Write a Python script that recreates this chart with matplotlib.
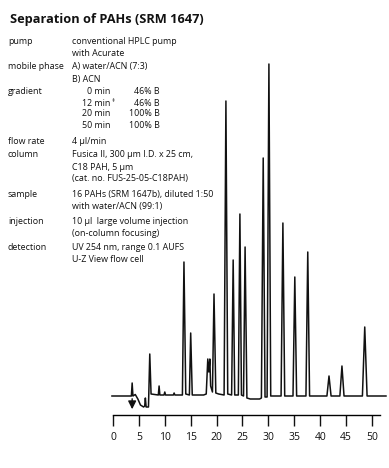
import numpy as np
import matplotlib
matplotlib.use('Agg')
import matplotlib.pyplot as plt

plt.rcParams['font.family'] = ['Open Sans', 'DejaVu Sans']

##################################################################
# Data (time in min, signal in arbitrary units)
##################################################################
trace_t = [-0.2, 3.55, 3.7, 3.85, 4.3, 4.8, 5.3, 5.9, 6.12, 6.25, 6.4, 6.85, 7.1, 7.35,
           8.75, 8.9, 9.05, 9.85, 10.0, 10.15, 11.65, 11.8, 11.95,
           13.4, 13.7, 14.05, 14.75, 15.0, 15.3, 17.5, 18.0, 18.3, 18.5, 18.7, 18.85,
           19.2, 19.5, 19.85, 20.4, 21.45, 21.8, 22.15, 22.9, 23.2, 23.5,
           24.2, 24.5, 24.8, 25.2, 25.5, 25.85, 26.5, 28.3, 28.65, 29.0, 29.35,
           29.75, 30.1, 30.45, 32.45, 32.8, 33.15, 34.75, 35.1, 35.45, 37.25, 37.6, 37.95,
           41.3, 41.7, 42.1, 43.8, 44.2, 44.6, 48.15, 48.6, 49.05, 52.7]
trace_y = [0, 0, 13, 0, 1.5, -3, -9, -11, -10, -2, -11, -11, 42, 2,
           1, 10, 1, 1, 4, 1, 1, 3, 1,
           1, 134, 2, 1, 63, 1, 1, 2, 37, 24, 37, 10,
           4, 102, 3, 2, 1, 295, 2, 1, 136, 1,
           1, 182, 1, 0, 149, -2, -3, -3, -2, 238, -1,
           -1, 332, 0, 0, 173, 0, 0, 119, 0, 0, 144, 0,
           0, 20, 0, 0, 30, 0, 0, 69, 0, 0]

xticks = [0, 5, 10, 15, 20, 25, 30, 35, 40, 45, 50]
injection_time = 3.7

title = 'Separation of PAHs (SRM 1647)'
conditions = [
    ('pump', ['conventional HPLC pump', 'with Acurate']),
    ('mobile phase', ['A) water/ACN (7:3)', 'B) ACN']),
    ('gradient', []),
    ('flow rate', ['4 \u00b5l/min']),
    ('column', ['Fusica II, 300 \u00b5m I.D. x 25 cm,', 'C18 PAH, 5 \u00b5m',
                '(cat. no. FUS-25-05-C18PAH)']),
    ('sample', ['16 PAHs (SRM 1647b), diluted 1:50', 'with water/ACN (99:1)']),
    ('injection', ['10 \u00b5l  large volume injection', '(on-column focusing)']),
    ('detection', ['UV 254 nm, range 0.1 AUFS', 'U-Z View flow cell']),
]
row_y = [42, 67, 92, 141, 155, 194, 221, 247]   # pixel rows of the labels
gradient_min = ['0 min', '12 min', '20 min', '50 min']
gradient_b = ['46% B', '46% B', '100% B', '100% B']

##################################################################
# Plot figure
##################################################################
W, H = 389, 468
fig = plt.figure(figsize=(W / 100, H / 100), dpi=100)

def px(x, y):
    return x / W, 1 - y / H

fig.text(*px(10, 20), title, fontsize=9.2, fontweight='bold', va='center', color='#111')

fs = 6.4
for (label, lines), y in zip(conditions, row_y):
    fig.text(*px(8, y), label, fontsize=fs, va='center', color='#111')
    for i, line in enumerate(lines):
        fig.text(*px(72, y + 12 * i), line, fontsize=fs, va='center', color='#111')

for i, (m, b) in enumerate(zip(gradient_min, gradient_b)):
    y = 92 + 11 * i
    fig.text(*px(110, y), m, fontsize=fs, va='center', ha='right', color='#111')
    fig.text(*px(160, y), b, fontsize=fs, va='center', ha='right', color='#111')
fig.text(*px(112, 100), '\u2021', fontsize=4.5, va='center', color='#111')

# chromatogram axes: t=0 at x=113 px, t=50 at x=372 px; baseline at y=396 px
ax = fig.add_axes([110.4 / W, (H - 415) / H, 276.1 / W, 359 / H])
ax.plot(trace_t, trace_y, color='#111', lw=1.1)
ax.set_xlim(-0.5, 52.8)
ax.set_ylim(-19, 340)

ax.annotate('', xy=(injection_time, -16), xytext=(injection_time, 0),
            arrowprops=dict(arrowstyle='-|>', color='#111', lw=1.0, mutation_scale=12))

for s in ['top', 'right', 'left']:
    ax.spines[s].set_visible(False)
ax.spines['bottom'].set_bounds(0, 51.5)
ax.spines['bottom'].set_linewidth(1.0)
ax.set_yticks([])
ax.set_xticks(xticks)
ax.set_xticklabels([str(t) for t in xticks], fontsize=7.5)
ax.tick_params(axis='x', direction='out', length=8, width=1.0, pad=4, colors='#111')

plt.savefig('out.png', dpi=100)
